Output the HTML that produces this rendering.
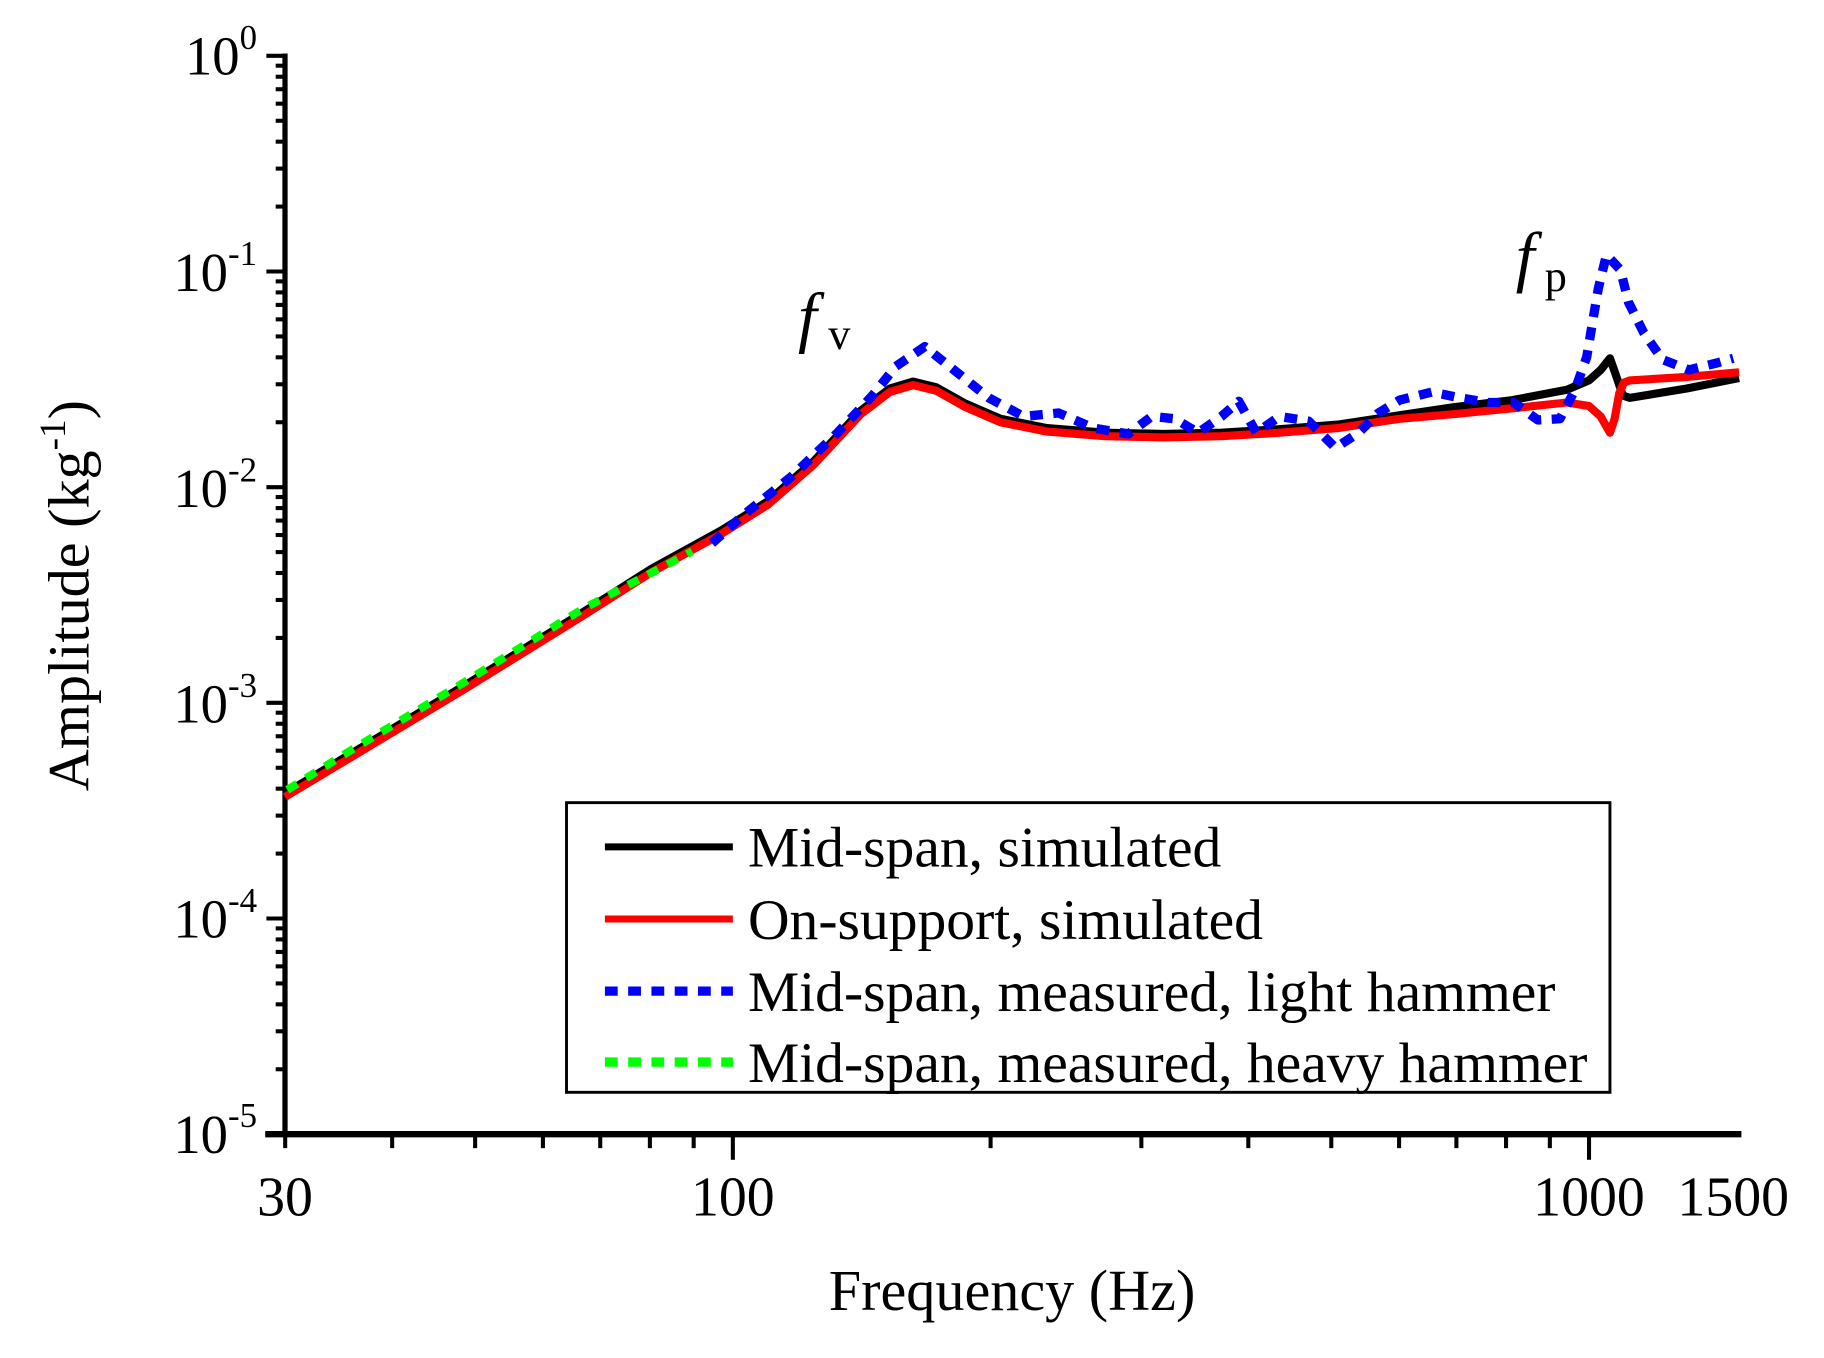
<!DOCTYPE html>
<html><head><meta charset="utf-8"><style>
html,body{margin:0;padding:0;background:#fff;}
svg{display:block;}
text{font-family:"Liberation Serif",serif;fill:#000;}
</style></head><body>
<svg width="1824" height="1358" viewBox="0 0 1568 1167.4" preserveAspectRatio="none" xmlns="http://www.w3.org/2000/svg">
<g id="ticks" stroke="#000" stroke-width="3.5"></g>
<line x1="245" y1="46" x2="245" y2="977" stroke="#000" stroke-width="4.5"/>
<line x1="228" y1="975" x2="1497" y2="975" stroke="#000" stroke-width="5.5"/>
<g font-size="47" text-anchor="end">
<text x="221" y="64">10<tspan font-size="30" dy="-22">0</tspan></text>
<text x="221" y="250">10<tspan font-size="30" dy="-22">-1</tspan></text>
<text x="221" y="436">10<tspan font-size="30" dy="-22">-2</tspan></text>
<text x="221" y="621">10<tspan font-size="30" dy="-22">-3</tspan></text>
<text x="221" y="806">10<tspan font-size="30" dy="-22">-4</tspan></text>
<text x="221" y="991">10<tspan font-size="30" dy="-22">-5</tspan></text>
</g>
<g font-size="48" text-anchor="middle">
<text x="245" y="1045">30</text>
<text x="630" y="1045">100</text>
<text x="1366" y="1045">1000</text>
<text x="1490" y="1045">1500</text>
</g>
<text x="870" y="1126" font-size="50" text-anchor="middle">Frequency (Hz)</text>
<text transform="translate(76,512) rotate(-90)" font-size="50" text-anchor="middle">Amplitude (kg<tspan font-size="32" dy="-20">-1</tspan><tspan dy="20">)</tspan></text>
<text x="686" y="292" font-size="58" font-style="italic">f</text><text x="712" y="300" font-size="38">v</text>
<text x="1303" y="240" font-size="58" font-style="italic">f</text><text x="1328" y="250" font-size="38">p</text>
<g fill="none" stroke-linejoin="round">
<polyline id="blk" stroke="#000" stroke-width="7"/>
<polyline id="red" stroke="#f00" stroke-width="7"/>
<polyline id="blu" stroke="#0000ff" stroke-width="8" stroke-dasharray="11 9"/>
<polyline id="grn" stroke="#00ff00" stroke-width="7" stroke-dasharray="10 9"/>
</g>
<rect x="487" y="690" width="897" height="249" fill="none" stroke="#000" stroke-width="2.5"/>
<line x1="520" y1="728" x2="630" y2="728" stroke="#000" stroke-width="6"/>
<line x1="520" y1="790" x2="630" y2="790" stroke="#f00" stroke-width="6"/>
<line x1="520" y1="852" x2="630" y2="852" stroke="#0000ff" stroke-width="8" stroke-dasharray="11 9"/>
<line x1="520" y1="913" x2="630" y2="913" stroke="#00ff00" stroke-width="8" stroke-dasharray="11 9"/>
<g font-size="49.5">
<text x="643" y="745">Mid-span, simulated</text>
<text x="643" y="807">On-support, simulated</text>
<text x="643" y="869">Mid-span, measured, light hammer</text>
<text x="643" y="930">Mid-span, measured, heavy hammer</text>
</g>
</svg>
<script>
var NS="http://www.w3.org/2000/svg",g=document.getElementById("ticks");
function L(x1,y1,x2,y2){var l=document.createElementNS(NS,"line");l.setAttribute("x1",x1);l.setAttribute("y1",y1);l.setAttribute("x2",x2);l.setAttribute("y2",y2);g.appendChild(l);}
var D=185.4;
for(var d=0;d<5;d++){var y0=48+d*D;L(229,y0,245,y0);for(var k=2;k<10;k++){var y=y0+D-Math.log10(k)*D;L(237,y,245,y);}}
L(229,975,245,975);
function fx(f){return 630+Math.log10(f/100)*736;}
[30,40,50,60,70,80,90,200,300,400,500,600,700,800,900].forEach(function(f){L(fx(f),975,fx(f),987);});
[100,1000].forEach(function(f){L(fx(f),975,fx(f),997);});
function P(id,a){document.getElementById(id).setAttribute("points",a.map(function(p){return p.join(",");}).join(" "));}
var base=[[245,683],[300,650],[400,590],[500,528],[560,490],[620,457],[660,432],[700,397],[740,354],[765,335],[785,329],[805,334],[830,348],[860,361],[900,369],[950,373],[1000,374],[1050,373],[1100,370],[1150,366],[1203,358]];
P("blk",base.map(function(p){return [p[0],p[1]-1];}).concat([[1250,350],[1300,344],[1347,335],[1366,327],[1376,318],[1384,308],[1390,325],[1395,340],[1401,342],[1450,334],[1495,325]]));
P("red",base.map(function(p){return [p[0],p[1]+2];}).concat([[1250,356],[1300,351],[1347,346],[1366,349],[1376,358],[1384,372],[1388,360],[1392,338],[1396,329],[1401,327],[1450,324],[1495,320]]));
P("blu",[[612,467],[640,442],[680,410],[720,372],[750,340],[770,315],[795,298],[820,318],[850,342],[880,358],[910,355],[940,368],[970,373],[990,358],[1010,360],[1030,372],[1050,358],[1065,345],[1080,372],[1100,358],[1125,362],[1148,385],[1168,372],[1185,355],[1203,344],[1231,337],[1255,342],[1279,346],[1301,346],[1322,361],[1341,360],[1354,335],[1364,307],[1369,277],[1374,248],[1381,219],[1393,232],[1400,260],[1413,286],[1429,309],[1452,318],[1476,312],[1490,308]]);
P("grn",[[247,679],[300,646],[400,586],[500,524],[595,474]]);
</script>
</body></html>
